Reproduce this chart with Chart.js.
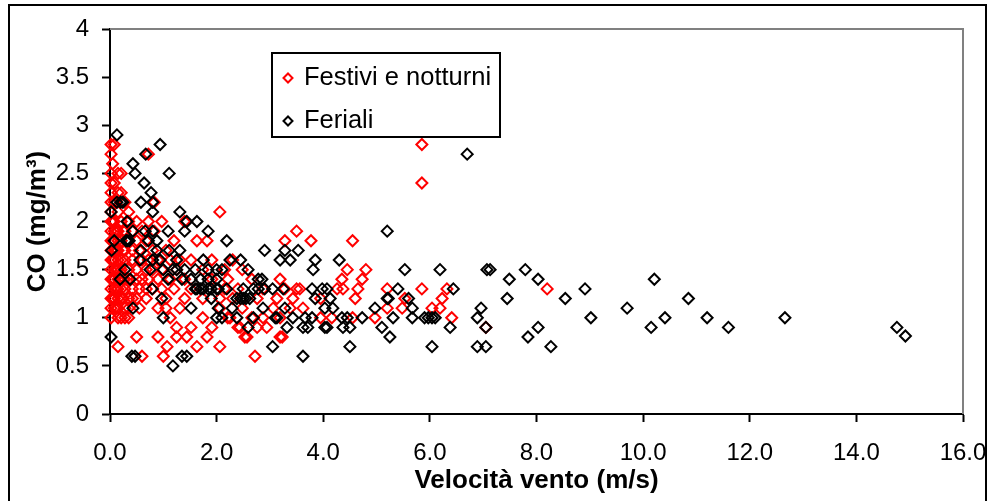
<!DOCTYPE html>
<html>
<head>
<meta charset="utf-8">
<script src="https://cdn.jsdelivr.net/npm/chart.js@4/dist/chart.umd.min.js"></script>
<style>
  html, body { margin: 0; padding: 0; background: #fff; overflow: hidden; }
  #frame { position: absolute; left: 8px; top: 4px; width: 975px; height: 540px; border: 2px solid #000; }
  #co-chart { position: absolute; left: 0; top: 0; }
</style>
</head>
<body>
<div id="frame"></div>
<canvas id="co-chart" width="991" height="501"></canvas>
<script>
// CO vs velocità vento: festivi/notturni (rosso) e feriali (nero)
const xTickValues = [0, 2, 4, 6, 8, 10, 12, 14, 16];
const xTickLabels = ['0.0', '2.0', '4.0', '6.0', '8.0', '10.0', '12.0', '14.0', '16.0'];
const yTickValues = [0, 0.5, 1, 1.5, 2, 2.5, 3, 3.5, 4];
const yTickLabels = ['0', '0.5', '1', '1.5', '2', '2.5', '3', '3.5', '4'];

// [velocità vento m/s, CO mg/m3]
const festivi = [
  [0.02,2.8],[0.02,2.7],[0.02,2.5],[0.02,2.4],[0.02,2.3],[0.02,2.2],[0.02,2.1],[0.02,2.0],[0.02,1.9],
  [0.02,1.8],[0.02,1.7],[0.02,1.6],[0.02,1.5],[0.02,1.4],[0.02,1.3],[0.02,1.2],[0.02,1.1],[0.02,1.0],
  [0.05,2.6],[0.05,2.0],[0.05,1.8],[0.05,1.6],[0.05,1.4],[0.05,1.2],
  [0.08,2.8],[0.08,2.4],[0.08,2.2],[0.08,2.0],[0.08,1.9],[0.08,1.8],[0.08,1.7],[0.08,1.6],[0.08,1.5],
  [0.08,1.4],[0.08,1.3],[0.08,1.2],[0.08,1.1],
  [0.12,1.9],[0.12,1.7],[0.12,1.5],[0.12,1.3],[0.12,1.1],
  [0.15,2.5],[0.15,2.3],[0.15,2.1],[0.15,1.9],[0.15,1.8],[0.15,1.7],[0.15,1.6],[0.15,1.5],[0.15,1.4],
  [0.15,1.3],[0.15,1.2],[0.15,1.1],[0.15,1.0],[0.15,0.7],
  [0.21,2.5],[0.21,2.3],[0.21,2.0],[0.21,1.8],[0.21,1.6],[0.21,1.5],[0.21,1.3],[0.21,1.2],[0.21,1.0],
  [0.25,1.9],[0.25,1.7],[0.25,1.4],[0.25,1.2],
  [0.28,2.2],[0.28,1.9],[0.28,1.7],[0.28,1.6],[0.28,1.4],[0.28,1.3],[0.28,1.1],[0.28,1.0],
  [0.35,2.1],[0.35,2.0],[0.35,1.8],[0.35,1.5],[0.35,1.4],[0.35,1.2],[0.35,1.1],[0.35,1.0],
  [0.42,1.9],[0.42,1.7],[0.42,1.6],[0.42,1.3],[0.42,1.2],
  [0.5,2.0],[0.5,1.8],[0.5,1.5],[0.5,1.4],[0.5,1.2],[0.5,0.8],
  [0.55,1.7],[0.55,1.3],[0.55,1.1],
  [0.6,1.9],[0.6,1.6],[0.6,1.4],[0.6,0.6],
  [0.68,1.8],[0.68,1.5],[0.68,1.3],[0.68,1.2],
  [0.72,2.7],[0.72,2.0],[0.72,1.6],[0.72,1.4],
  [0.8,1.7],[0.8,1.5],[0.8,1.3],[0.83,2.2],[0.83,1.9],
  [0.9,1.6],[0.9,1.4],[0.9,1.1],[0.9,0.8],
  [0.97,2.0],[0.97,1.5],[0.97,1.3],
  [1.0,0.6],[1.05,1.7],[1.05,1.2],[1.05,1.1],[1.07,0.7],
  [1.13,1.6],[1.13,1.4],[1.13,1.0],[1.2,1.8],[1.2,1.3],
  [1.25,0.8],[1.25,0.9],[1.25,1.5],[1.31,1.1],[1.31,1.6],
  [1.4,2.0],[1.4,1.4],[1.4,1.2],[1.44,0.8],
  [1.52,0.9],[1.52,1.3],[1.52,1.6],[1.63,1.8],[1.63,0.7],
  [1.74,1.0],[1.74,1.5],[1.74,1.2],[1.82,1.8],[1.82,0.8],
  [1.91,0.9],[1.91,1.4],[1.91,1.6],
  [2.06,2.1],[2.06,1.1],[2.06,0.7],[2.06,1.2],[2.15,1.5],[2.15,1.3],
  [2.21,1.0],[2.21,1.4],[2.25,1.0],[2.3,1.6],[2.3,1.2],
  [2.4,0.9],[2.4,1.3],[2.44,0.9],[2.48,1.1],[2.48,1.5],
  [2.53,0.8],[2.57,0.8],[2.66,1.0],[2.66,1.4],[2.72,0.6],
  [2.76,0.9],[2.76,1.2],[2.87,1.0],[2.87,1.3],[2.94,0.9],
  [3.06,1.1],[3.13,1.2],[3.19,0.8],[3.19,1.0],[3.19,1.4],[3.23,0.8],
  [3.28,1.3],[3.28,1.8],[3.38,1.1],[3.43,1.2],[3.5,1.3],[3.5,1.9],
  [3.56,1.3],[3.62,1.1],[3.77,1.8],[3.95,1.0],[3.95,1.2],
  [4.16,1.0],[4.26,1.3],[4.35,1.4],[4.37,1.3],[4.45,1.5],
  [4.55,1.8],[4.55,1.0],[4.6,1.2],[4.65,1.3],[4.73,1.4],[4.8,1.5],
  [4.97,1.0],[5.2,1.3],[5.2,1.1],[5.48,1.1],[5.53,1.2],
  [5.85,2.8],[5.85,2.4],[5.85,1.3],
  [6.04,1.1],[6.19,1.1],[6.23,1.2],[6.32,1.3],[6.41,1.0],
  [7.05,0.9],[8.2,1.3]
];

const feriali = [
  [0.02,2.1],[0.03,1.7],[0.02,0.8],[0.08,1.8],[0.13,2.9],[0.13,2.2],
  [0.2,2.2],[0.19,1.4],[0.24,2.2],[0.28,1.5],
  [0.3,1.8],[0.32,1.8],[0.32,2.0],[0.36,1.8],[0.38,1.4],[0.41,0.6],
  [0.43,2.6],[0.43,1.1],[0.43,1.9],[0.47,2.5],[0.47,0.6],
  [0.56,1.6],[0.58,2.2],[0.58,1.7],[0.64,2.4],[0.66,1.9],[0.67,2.7],
  [0.72,1.8],[0.75,1.5],[0.77,2.3],[0.79,1.3],
  [0.8,2.2],[0.8,2.1],[0.8,1.9],[0.8,1.6],[0.88,1.7],[0.88,1.8],
  [0.94,2.8],[0.94,1.6],[0.97,1.2],[1.0,1.0],[1.0,1.5],
  [1.09,1.9],[1.09,1.4],[1.11,2.5],[1.11,1.7],[1.18,0.5],[1.18,1.5],
  [1.25,1.5],[1.25,1.6],[1.31,2.1],[1.31,1.7],[1.35,0.6],[1.35,1.4],
  [1.4,1.9],[1.4,1.5],[1.44,0.6],[1.44,2.0],[1.52,1.1],[1.52,1.4],
  [1.6,1.3],[1.6,1.5],[1.63,2.0],[1.63,1.3],[1.7,1.4],[1.7,1.3],
  [1.75,1.6],[1.75,1.3],[1.84,1.9],[1.84,1.4],[1.84,1.3],[1.84,1.5],
  [1.9,1.3],[1.9,1.2],[2.0,1.0],[2.0,1.3],[2.0,1.4],[2.0,1.5],
  [2.03,1.1],[2.03,1.3],[2.1,1.0],[2.1,1.5],[2.19,1.8],[2.19,1.3],
  [2.25,1.6],[2.29,1.1],[2.38,1.0],[2.38,1.2],[2.45,1.2],[2.45,1.6],
  [2.5,1.2],[2.5,1.3],[2.55,1.2],[2.59,1.5],[2.59,0.9],[2.62,1.2],
  [2.69,1.0],[2.69,1.3],[2.78,1.4],[2.78,1.3],[2.85,1.4],[2.87,1.1],
  [2.9,1.7],[2.9,1.3],[3.05,0.7],[3.05,1.3],[3.1,1.0],[3.13,1.0],
  [3.19,1.6],[3.25,1.3],[3.28,1.7],[3.28,1.1],[3.32,0.9],[3.38,1.6],
  [3.43,1.0],[3.53,1.7],[3.62,0.6],[3.62,0.9],[3.66,1.0],[3.71,0.9],
  [3.79,1.0],[3.79,1.3],[3.81,1.5],[3.85,1.6],[3.85,1.2],[3.98,1.3],
  [4.03,1.1],[4.03,0.9],[4.07,1.3],[4.07,0.9],[4.13,1.2],[4.18,1.1],
  [4.3,1.6],[4.35,1.0],[4.37,0.9],[4.45,1.0],[4.5,0.9],[4.5,0.7],
  [4.73,1.0],[4.97,1.1],[5.1,0.9],[5.2,1.9],[5.2,1.2],[5.22,1.2],
  [5.25,0.8],[5.31,1.0],[5.4,1.3],[5.53,1.5],[5.6,1.2],[5.67,1.1],[5.67,1.0],
  [5.9,1.0],[5.97,1.0],[6.04,1.0],[6.04,0.7],[6.1,1.0],[6.19,1.5],
  [6.38,0.9],[6.44,1.3],[6.7,2.7],[6.89,1.0],[6.89,0.7],[6.96,1.1],
  [7.05,0.7],[7.05,0.9],[7.07,1.5],[7.13,1.5],[7.45,1.2],[7.49,1.4],
  [7.79,1.5],[7.84,0.8],[8.03,1.4],[8.03,0.9],[8.27,0.7],[8.54,1.2],
  [8.91,1.3],[9.02,1.0],[9.7,1.1],[10.15,0.9],[10.21,1.4],[10.41,1.0],
  [10.85,1.2],[11.2,1.0],[11.6,0.9],[12.66,1.0],[14.76,0.9],[14.92,0.81]
];

const seriesNames = ['Festivi e notturni', 'Feriali'];
const seriesColors = ['#ff0000', '#000000'];
const FONT = "'Liberation Sans', Arial, sans-serif";

// cornice grigia in alto e a destra dell'area del grafico
const plotFrame = {
  id: 'plotFrame',
  beforeDatasetsDraw(chart) {
    const { ctx, chartArea: a } = chart;
    ctx.save();
    ctx.strokeStyle = '#808080';
    ctx.lineWidth = 2;
    ctx.beginPath();
    ctx.moveTo(a.left, a.top);
    ctx.lineTo(a.right, a.top);
    ctx.lineTo(a.right, a.bottom);
    ctx.stroke();
    ctx.restore();
  }
};

// legenda dentro il grafico, con bordo, come in Excel
const boxLegend = {
  id: 'boxLegend',
  afterDraw(chart) {
    const ctx = chart.ctx;
    ctx.save();
    ctx.fillStyle = '#fff';
    ctx.fillRect(272, 53, 228, 84);
    ctx.strokeStyle = '#000';
    ctx.lineWidth = 2;
    ctx.strokeRect(272, 53, 228, 84);
    seriesNames.forEach((name, i) => {
      const y = 78 + i * 43;
      ctx.strokeStyle = seriesColors[i];
      ctx.fillStyle = 'rgba(0,0,0,0)';
      ctx.lineWidth = 2;
      Chart.helpers.drawPoint(ctx, { pointStyle: 'rectRot', radius: 4.5, borderWidth: 2 }, 288, y);
      ctx.fillStyle = '#000';
      ctx.font = `25.5px ${FONT}`;
      ctx.textBaseline = 'middle';
      ctx.fillText(name, 304, y);
    });
    ctx.restore();
  }
};

const makeDataset = (label, pts, color, order) => ({
  label,
  data: pts.map(([x, y]) => ({ x, y })),
  pointStyle: 'rectRot',
  pointRadius: 5.5,
  pointBorderWidth: 2,
  pointBorderColor: color,
  pointBackgroundColor: 'rgba(0,0,0,0)',
  borderColor: color,
  showLine: false,
  clip: false,
  order
});

new Chart(document.getElementById('co-chart'), {
  type: 'scatter',
  data: {
    datasets: [
      makeDataset(seriesNames[0], festivi, seriesColors[0], 1),
      makeDataset(seriesNames[1], feriali, seriesColors[1], 0)
    ]
  },
  options: {
    responsive: false,
    animation: false,
    events: [],
    layout: { padding: { left: 0, top: 29, right: 28, bottom: 0 } },
    plugins: { legend: { display: false }, tooltip: { enabled: false } },
    scales: {
      x: {
        type: 'linear', min: 0, max: 16,
        afterBuildTicks: s => { s.ticks = xTickValues.map(v => ({ value: v })); },
        afterFit: s => { s.height = 87; s.paddingLeft = 0; s.paddingRight = 0; },
        border: { display: true, color: '#000', width: 2 },
        grid: { drawOnChartArea: false, drawTicks: true, tickLength: 8, tickColor: '#000', tickWidth: 2 },
        ticks: {
          padding: 17, color: '#000', maxRotation: 0,
          font: { family: FONT, size: 24 },
          callback: (v, i) => xTickLabels[i]
        },
        title: {
          display: true, text: 'Velocità vento (m/s)', color: '#000',
          font: { family: FONT, size: 26, weight: 'bold' },
          padding: { top: 0, bottom: 5 }
        }
      },
      y: {
        type: 'linear', min: 0, max: 4,
        afterBuildTicks: s => { s.ticks = yTickValues.map(v => ({ value: v })); },
        afterFit: s => { s.width = 110; s.paddingTop = 0; s.paddingBottom = 0; },
        border: { display: true, color: '#000', width: 2 },
        grid: { drawOnChartArea: false, drawTicks: true, tickLength: 8, tickColor: '#000', tickWidth: 2 },
        ticks: {
          padding: 13, color: '#000',
          font: { family: FONT, size: 24 },
          callback: (v, i) => yTickLabels[i]
        },
        title: {
          display: true, text: 'CO (mg/m³)', color: '#000',
          font: { family: FONT, size: 26, weight: 'bold' },
          padding: { top: 22, bottom: 0 }
        }
      }
    }
  },
  plugins: [plotFrame, boxLegend]
});
</script>
</body>
</html>
